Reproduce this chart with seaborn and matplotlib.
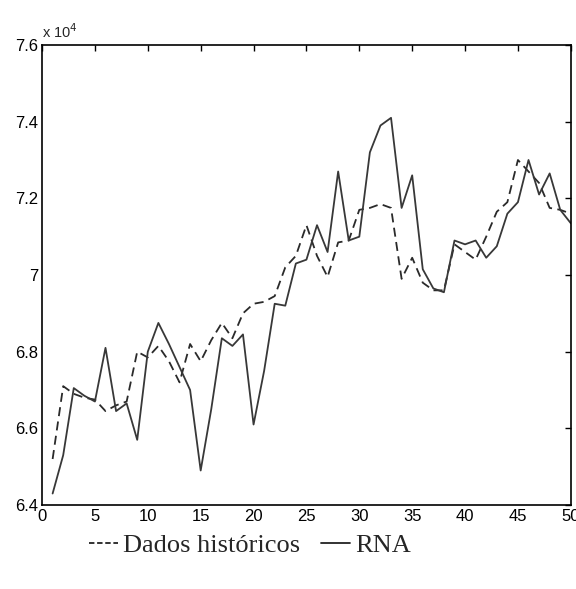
import numpy as np
import pandas as pd
import seaborn as sns
import matplotlib
matplotlib.use('Agg')
import matplotlib.pyplot as plt
from matplotlib.ticker import FuncFormatter

# valores em unidades de 10^4
amostra = list(range(1, 51))
historico = [6.52, 6.71, 6.69, 6.68, 6.675, 6.645, 6.66, 6.67, 6.80, 6.785,
             6.815, 6.775, 6.72, 6.82, 6.775, 6.83, 6.875, 6.835, 6.90, 6.925,
             6.93, 6.945, 7.02, 7.05, 7.13, 7.05, 6.995, 7.085, 7.09, 7.17,
             7.175, 7.185, 7.175, 6.99, 7.045, 6.98, 6.96, 6.96, 7.08, 7.06,
             7.04, 7.10, 7.165, 7.19, 7.30, 7.27, 7.24, 7.175, 7.17, 7.16]
rna = [6.43, 6.53, 6.705, 6.685, 6.67, 6.81, 6.645, 6.665, 6.57, 6.80,
       6.875, 6.82, 6.76, 6.70, 6.49, 6.65, 6.835, 6.815, 6.845, 6.61,
       6.75, 6.925, 6.92, 7.03, 7.04, 7.13, 7.06, 7.27, 7.09, 7.10,
       7.32, 7.39, 7.41, 7.175, 7.26, 7.015, 6.965, 6.955, 7.09, 7.08,
       7.09, 7.045, 7.075, 7.16, 7.19, 7.30, 7.21, 7.265, 7.17, 7.135]

df = pd.DataFrame({
    'x': amostra * 2,
    'valor': historico + rna,
    'serie': ['Dados históricos'] * 50 + ['RNA'] * 50,
})

sns.set_style('white')
plt.rcParams['font.family'] = ['Liberation Sans', 'DejaVu Sans']

fig = plt.figure(figsize=(5.76, 5.89), dpi=100)
ax = fig.add_axes([0.073, 0.1426, 0.918, 0.781])

sns.lineplot(data=df, x='x', y='valor', hue='serie', style='serie',
             palette={'Dados históricos': '#2a2a2a', 'RNA': '#383838'},
             dashes={'Dados históricos': (5, 3), 'RNA': ''},
             linewidth=1.3, ax=ax, legend=False)

ax.set_xlim(0, 50)
ax.set_ylim(6.4, 7.6)
ax.set_xticks(np.arange(0, 51, 5))
ax.set_yticks(np.arange(6.4, 7.61, 0.2))
ax.yaxis.set_major_formatter(FuncFormatter(lambda v, p: '%g' % round(v, 1)))
ax.set_xlabel('')
ax.set_ylabel('')
ax.tick_params(direction='in', length=4, width=1, top=True, right=True,
               labelsize=12, pad=3, colors='black')
for s in ax.spines.values():
    s.set_color('black')
    s.set_linewidth(1.2)

ax.text(0.0, 1.008, r'x 10$^4$', transform=ax.transAxes, fontsize=10.5,
        ha='left', va='bottom')

h1, = ax.plot([], [], color='#222222', dashes=(3, 1.5), linewidth=1.3)
h2, = ax.plot([], [], color='#222222', linewidth=1.3)
fig.legend([h1, h2], ['Dados históricos', 'RNA'], loc='center',
           bbox_to_anchor=(250 / 576, 1 - 545 / 589), ncol=2, frameon=False,
           prop={'family': 'Liberation Serif', 'size': 19},
           handlelength=1.1, handletextpad=0.2, columnspacing=0.8)

fig.savefig('out.png', dpi=100)
